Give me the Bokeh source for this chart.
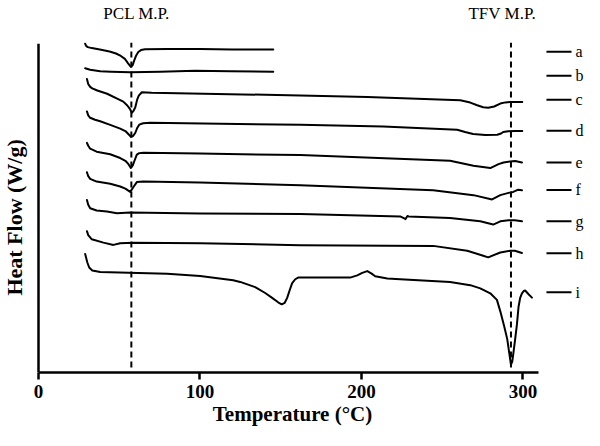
from math import pi
from bokeh.plotting import figure
from bokeh.models import Range1d, FixedTicker
from bokeh.embed import file_html
from bokeh.resources import INLINE
from bokeh.core.properties import value

# ---------------- data (temperature in °C, heat flow in offset units) ----------------
t_a = [28.9, 29.4, 30.5, 33.0, 38.0, 44.0, 48.0, 51.0, 53.5, 55.5, 57.2, 58.3, 59.3, 60.5, 61.8, 63.5, 66.0, 80.0, 100.0, 120.0, 145.4]
hf_a = [335, 333, 331.5, 330.5, 329, 327, 325, 322.5, 319.5, 315, 311.5, 313, 318, 323, 326.5, 328.5, 329.3, 329.5, 329.5, 329.2, 329]

t_b = [28.9, 32.0, 38.2, 45.0, 56.8, 75.4, 97.0, 118.7, 145.4]
hf_b = [310, 308.5, 307, 306.5, 306, 306.5, 307.5, 307, 306.5]

t_c = [30.0, 30.8, 32.0, 33.3, 36.4, 42.5, 48.7, 52.5, 55.0, 56.8, 57.8, 58.6, 59.9, 61.1, 62.1, 64.0, 70.0, 162.1, 203.6, 261.2,
       267.4, 271.7, 275.4, 278.5, 282.2, 286.0, 289.1, 292.1, 299.6]
hf_c = [299, 294, 291, 289.5, 287.3, 284, 279, 276, 272, 268, 264.5, 266, 270, 278, 282, 285.5, 285, 282.3, 280.7, 277.3,
        275, 272.3, 270.3, 269.7, 271, 274, 275.2, 275.7, 275.7]

t_d = [30.0, 30.8, 32.0, 35.0, 38.2, 44.4, 50.6, 53.8, 55.6, 57.4, 58.6, 59.9, 61.1, 62.4, 64.8, 69.2, 162.1, 213.5, 259.3, 264.2,
       269.2, 276.7, 284.1, 286.5, 287.8, 290.9, 295.0, 299.6]
hf_d = [266, 262, 259.5, 257.5, 256, 252.3, 248.5, 246, 243, 240, 241, 244, 249, 252.5, 254, 254.5, 252.3, 250.7, 247.3, 245,
        243, 242, 242.3, 243.5, 245, 245.7, 246, 246]

t_e = [30.0, 30.8, 32.0, 36.0, 44.4, 50.6, 53.8, 55.6, 57.2, 58.4, 59.5, 60.9, 62.4, 65.0, 100.0, 162.1, 254.9, 269.4, 279.8, 284.9,
       288.0, 292.1, 295.2, 299.4]
hf_e = [234, 231, 228, 225, 222.3, 218.5, 215.7, 212.5, 208.5, 211, 216, 222, 223.5, 224, 223, 221.5, 215.7, 210.7, 208.3, 212.3,
        214, 215, 215.5, 214]

t_f = [30.0, 30.8, 32.0, 36.0, 44.4, 50.6, 53.8, 56.8, 58.8, 60.9, 65.0, 100.0, 162.1, 244.4, 269.4, 280.9, 286.0, 291.1, 294.0, 297.1, 299.4]
hf_f = [204, 200, 197.3, 194.5, 192.3, 189.5, 187.3, 184, 189, 194, 194.7, 193.5, 190.7, 185.7, 180.7, 176.3, 180.7, 183, 184, 186.3, 185.7]

t_g = [30.0, 30.8, 32.0, 36.0, 42.4, 48.6, 56.8, 100.0, 162.1, 224.0, 226.5, 227.3, 228.5, 229.2, 254.9, 273.6, 281.6, 286.0, 291.1, 295.0, 299.4]
hf_g = [175.7, 171, 167.3, 165, 164, 162.3, 163, 162, 161.5, 159, 157, 156.3, 159.5, 159, 157.3, 154, 150.7, 154, 155, 155, 154]

t_h = [30.0, 30.8, 33.0, 40.2, 46.4, 50.6, 58.8, 100.1, 162.1, 244.4, 265.5, 275.4, 278.5, 286.0, 292.1, 295.0, 299.4]
hf_h = [144, 140, 135.7, 132.3, 130, 131.7, 132.3, 131.7, 129.7, 129, 124, 119, 117.3, 122.3, 124, 124, 121.7]

t_i = [28.9, 29.5, 30.2, 31.4, 33.3, 38.2, 79.7, 100.1, 120.6, 124.9, 134.2, 140.4, 144.7, 148.4, 150.6, 152.5, 154.0, 155.6, 157.1, 159.0,
       160.8, 193.0, 197.4, 200.5, 203.6, 206.1, 208.5, 216.0, 224.0, 254.9, 267.4, 273.6, 279.8, 283.9, 286.0, 288.4, 290.3, 291.8, 292.6, 293.4,
       294.2, 295.2, 296.3, 297.3, 298.3, 299.4, 300.5, 301.4, 303.5, 305.6]
hf_i = [120.7, 117, 112.3, 107, 104, 102.3, 100.7, 98.3, 94, 92.3, 87, 81, 76, 71.5, 69.5, 71, 76, 84, 91, 95,
        96.7, 96.7, 99, 101.5, 103.3, 101, 98, 95.7, 95, 92.3, 89, 85.7, 80.7, 74, 62.3, 47, 34, 17, 8, 11,
        21, 34, 49, 67, 76, 80.7, 83, 83.5, 79.7, 76.3]

series_t = [t_a, t_b, t_c, t_d, t_e, t_f, t_g, t_h, t_i]
series_hf = [hf_a, hf_b, hf_c, hf_d, hf_e, hf_f, hf_g, hf_h, hf_i]
series_names = ["a", "b", "c", "d", "e", "f", "g", "h", "i"]
series_label_hf = [326.7, 302.3, 278, 246.3, 214, 186, 154, 121.5, 81.7]

mp_names = ["PCL M.P.", "TFV M.P."]
mp_temps = [57.5, 292.6]
mp_text_t = [60.8, 287.2]

x_ticks = [0, 100, 200, 300]
x_title = "Temperature (°C)"
y_title = "Heat Flow (W/g)"

# ---------------- layout ----------------
PX_PER_DEG = 1.6147
W, H = 584, 430
BOTTOM = 58
AXIS_PX = 38                      # pixel position of T = 0
FONT = "Liberation Serif"
x_start = -AXIS_PX / PX_PER_DEG
x_end = x_start + W / PX_PER_DEG

p = figure(width=W, height=H, output_backend="svg", toolbar_location=None,
           x_range=Range1d(x_start, x_end), y_range=Range1d(0, 379),
           min_border_left=0, min_border_right=0, min_border_top=0, min_border_bottom=BOTTOM,
           x_axis_label=x_title)
p.background_fill_color = "white"
p.border_fill_color = "white"
p.outline_line_color = None
p.grid.visible = False
p.yaxis.visible = False

xa = p.xaxis[0]
xa.ticker = FixedTicker(ticks=x_ticks)
xa.bounds = (0, 309.5)
xa.axis_line_width = 2.5
xa.axis_line_color = "black"
xa.major_tick_line_width = 2.5
xa.major_tick_in = 0
xa.major_tick_out = 7
xa.minor_tick_line_color = None
xa.major_label_text_font = FONT
xa.major_label_text_font_style = "bold"
xa.major_label_text_font_size = "19px"
xa.major_label_text_color = "black"
xa.major_label_standoff = 5
xa.axis_label_text_font = FONT
xa.axis_label_text_font_style = "bold"
xa.axis_label_text_font_size = "21px"
xa.axis_label_text_color = "black"
xa.axis_label_standoff = 1

# vertical (heat flow) axis line and its title
p.segment(x0=[0], y0=[0], x1=[0], y1=[335], line_color="black", line_width=2.5)
p.text(x=[-15.0], y=[158], text=[y_title], angle=pi / 2, text_font=value(FONT), text_font_style="bold",
       text_font_size="22px", text_align="center", text_baseline="middle", text_color="black")

# melting point dashed lines
p.segment(x0=mp_temps, y0=[5, 5], x1=mp_temps, y1=[336, 336],
          line_color="black", line_width=2, line_dash="6 4")
p.text(x=mp_text_t, y=[365.5, 365.5], text=mp_names, text_font=value(FONT),
       text_font_size="17px", text_align="center", text_baseline="alphabetic", text_color="black")

# thermograms
for t, hf in zip(series_t, series_hf):
    p.line(t, hf, line_color="black", line_width=2, line_join="round", line_cap="round")

# curve labels on the right
p.segment(x0=[314.6] * len(series_names), y0=series_label_hf,
          x1=[330.1] * len(series_names), y1=series_label_hf, line_color="black", line_width=2)
p.text(x=[332.6] * len(series_names), y=series_label_hf, text=series_names, text_font=value(FONT),
       text_font_size="16px", text_align="left", text_baseline="middle", text_color="black")

open("out.html", "w").write(file_html(p, INLINE))
